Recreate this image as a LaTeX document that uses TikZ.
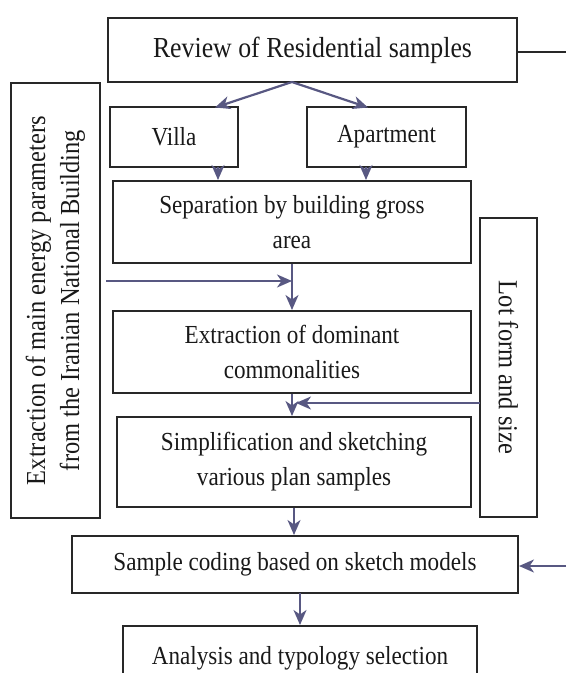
\documentclass[tikz,border=0pt]{standalone}
\usepackage{fontspec}
\setmainfont[FakeStretch=0.89]{Liberation Serif}
\usetikzlibrary{arrows.meta,calc}
\definecolor{arrowc}{RGB}{88,88,130}
\definecolor{boxc}{RGB}{40,40,40}
\definecolor{textc}{RGB}{25,25,25}
\begin{document}
\begin{tikzpicture}[x=1pt,y=-1pt,
  box/.style={draw=boxc,line width=2pt,inner sep=0pt,align=center,text=textc,
    font=\fontsize{26}{35}\selectfont},
  rtext/.style={text=textc,align=center,font=\fontsize{27.5}{34}\selectfont},
  conn/.style={draw=arrowc,line width=2.2pt,-{Stealth[length=15pt,width=13pt,inset=4.5pt]}}]
\useasboundingbox (0,0) rectangle (566,673);
\begin{scope}
\clip (0,0) rectangle (566,673);
% boxes
\node[box,minimum width=409,minimum height=64,font=\fontsize{29}{35}\selectfont] (top) at (312.5,50) {Review of Residential samples};
\node[box,minimum width=128,minimum height=60] (villa) at (174,137) {Villa};
\node[box,minimum width=159,minimum height=60] (apt) at (386.5,137) {Apartment};
\node[box,minimum width=358,minimum height=82] (sep) at (292,222) {Separation by building gross\\area};
\node[box,minimum width=358,minimum height=82] (ext) at (292,352) {Extraction of dominant\\commonalities};
\node[box,minimum width=354,minimum height=90] (simp) at (294,462) {Simplification and sketching\\various plan samples};
\node[box,minimum width=446,minimum height=57] (code) at (295,564.5) {Sample coding based on sketch models};
\node[box,minimum width=354,minimum height=80] (ana) at (300,666) {};
\node[text=textc,font=\fontsize{26}{35}\selectfont] (anat) at (300,658) {Analysis and typology selection};
\node[box,minimum width=89,minimum height=435] (lbox) at (55.5,300.5) {};
\node[rtext,rotate=90] (ltext) at (lbox) {Extraction of main energy parameters\\from the Iranian National Building};
\node[box,minimum width=57,minimum height=299] (lot) at (508.5,367.5) {};
\node[rtext,rotate=-90] (lottext) at (lot) {Lot form and size};
\end{scope}
% connectors
\coordinate (split) at (292,82);
\draw[conn] (split) -- (215,107.5);
\draw[conn] (split) -- (368,107.5);
\coordinate (va) at (218,167);
\coordinate (aa) at (366,167);
\draw[conn] (va) -- (va |- sep.north);
\draw[conn] (aa) -- (aa |- sep.north);
\draw[conn] (sep.south) -- (ext.north);
\coordinate (la) at (106,281);
\draw[conn] (la) -- (la -| sep.south);
\draw[conn] (ext.south) -- (ext.south |- simp.north);
\coordinate (lotp) at (480,403);
\draw[conn] (lotp) -- (296,403);
\draw[conn] (simp.south) -- (simp.south |- code.north);
\coordinate (ca) at (300,593);
\draw[conn] (ca) -- (ana.north);
\coordinate (rin) at (566,566);
\draw[conn] (rin) -- (rin -| code.east);
\coordinate (rout) at (566,52);
\draw[draw=boxc,line width=1.5pt] (top.east |- rout) -- (rout);
\end{tikzpicture}
\end{document}
